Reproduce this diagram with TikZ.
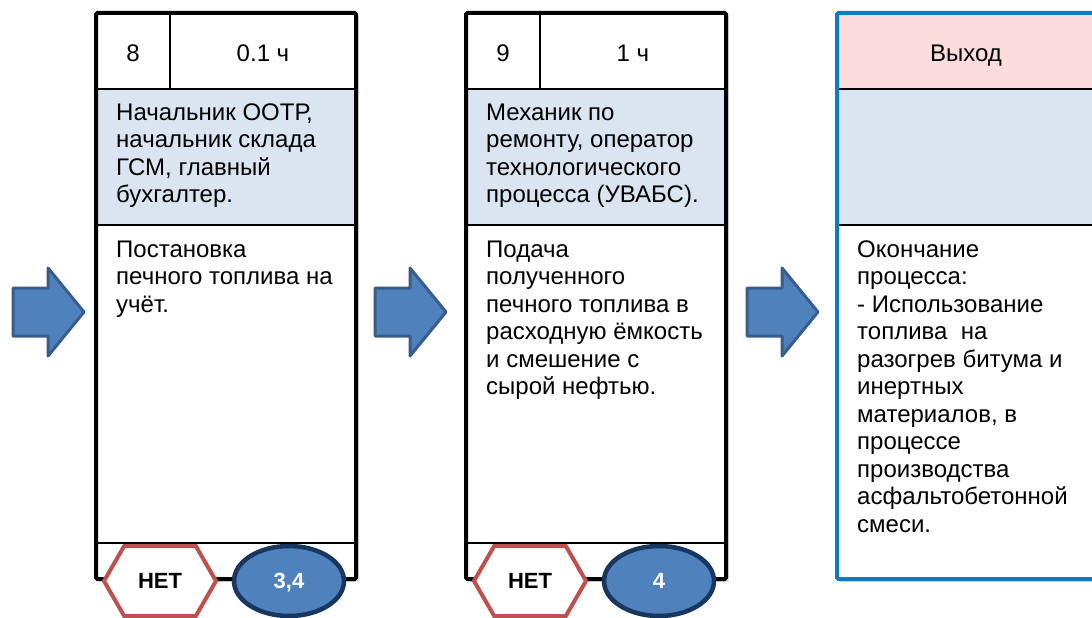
\documentclass[tikz,border=0pt]{standalone}
\usepackage{fontspec}
\setmainfont{Liberation Sans}
\usetikzlibrary{shapes.geometric,shapes.symbols,shadows}

\definecolor{arrowfill}{HTML}{4F81BD}
\definecolor{arrowline}{HTML}{385D8A}
\definecolor{rolefill}{HTML}{DBE5F1}
\definecolor{exitfill}{HTML}{FCDCDC}
\definecolor{exitline}{HTML}{0A7CC2}
\definecolor{hexline}{HTML}{C0504D}
\definecolor{ovalline}{HTML}{17375E}

\tikzset{
  body/.style={font=\fontsize{24}{27.5}\selectfont, align=left, anchor=north west, inner sep=0pt},
  cell/.style={font=\fontsize{24}{27.5}\selectfont, anchor=base, inner sep=0pt},
  blockarrow/.style={fill=arrowfill, draw=arrowline, line width=3pt, line join=round},
  hexmark/.style={shape=signal, signal to=west and east, signal pointer angle=120, draw=hexline, line width=4pt, fill=white, minimum width=112pt, minimum height=70pt, inner sep=0pt, text height=15.8pt, text depth=0pt, font=\fontsize{22}{24}\selectfont\bfseries},
  ovalmark/.style={ellipse, draw=ovalline, fill=arrowfill, line width=4.5pt, minimum width=110pt, minimum height=70pt, inner sep=0pt, text height=15.8pt, text depth=0pt, text=white, font=\fontsize{22}{24}\selectfont\bfseries},
  stageframe/.style={line width=4pt, rounded corners=1.5pt},
  splitline/.style={line width=1.2pt},
  boxshadow/.style={drop shadow={shadow xshift=3pt, shadow yshift=-3pt, opacity=0.25}}
}

\begin{document}
\begin{tikzpicture}[x=1pt, y=-1pt]
\useasboundingbox (0,0) rectangle (1092,618);
\clip (0,0) rectangle (1092,618);
\fill[white] (0,0) rectangle (1092,618);

% block arrows
\foreach \ax in {13, 375, 747}
  \draw[blockarrow] (\ax,288) -- (\ax+35,288) -- (\ax+35,268) -- (\ax+71,312)
    -- (\ax+35,356) -- (\ax+35,336) -- (\ax,336) -- cycle;

% step 8
\fill[white, boxshadow] (96,13) rectangle (356,579);
\fill[rolefill] (96,89) rectangle (356,225);
\draw[splitline] (96,89) -- (356,89);
\draw[splitline] (96,225) -- (356,225);
\draw[splitline] (96,543) -- (356,543);
\draw[splitline] (170,13) -- (170,89);
\draw[stageframe] (96,13) rectangle (356,579);
\node[cell] (num1) at (133,62) {8};
\node[cell] (time1) at (263,62) {0.1 ч};
\node[body] (role1) at (116,103.5) {Начальник ООТР,\\начальник склада\\ГСМ, главный\\бухгалтер.};
\node[body] (task1) at (116,240.5) {Постановка\\печного топлива на\\учёт.};
\node[hexmark] (no1) at (160,581) {НЕТ};
\node[ovalmark] (ref1) at (289,581) {3,4};

% step 9
\fill[white, boxshadow] (466,13) rectangle (726,579);
\fill[rolefill] (466,89) rectangle (726,225);
\draw[splitline] (466,89) -- (726,89);
\draw[splitline] (466,225) -- (726,225);
\draw[splitline] (466,543) -- (726,543);
\draw[splitline] (540,13) -- (540,89);
\draw[stageframe] (466,13) rectangle (726,579);
\node[cell] (num2) at (503,62) {9};
\node[cell] (time2) at (633,62) {1 ч};
\node[body] (role2) at (486,103.5) {Механик по\\ремонту, оператор\\технологического\\процесса (УВАБС).};
\node[body] (task2) at (486,240.5) {Подача\\полученного\\печного топлива в\\расходную ёмкость\\и смешение с\\сырой нефтью.};
\node[hexmark] (no2) at (530,581) {НЕТ};
\node[ovalmark] (ref2) at (659,581) {4};

% exit
\fill[white, boxshadow] (837,13) rectangle (1100,579);
\fill[exitfill] (837,13) rectangle (1100,89);
\fill[rolefill] (837,89) rectangle (1100,225);
\draw[splitline] (837,89) -- (1100,89);
\draw[splitline] (837,225) -- (1100,225);
\draw[stageframe, draw=exitline] (837,13) rectangle (1100,579);
\node[cell] (exit) at (966,62) {Выход};
\node[body] (finish) at (857,240.5) {Окончание\\процесса:\\- Использование\\топлива\ \ на\\разогрев битума и\\инертных\\материалов, в\\процессе\\производства\\асфальтобетонной\\смеси.};
\end{tikzpicture}
\end{document}
